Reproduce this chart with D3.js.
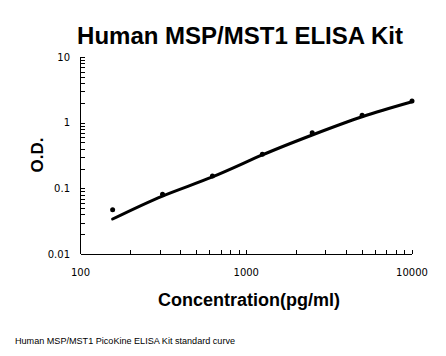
<!DOCTYPE html>
<html><head><meta charset="utf-8">
<script src="https://cdn.jsdelivr.net/npm/d3@7"></script>
<style>body{margin:0;background:#fff}svg{display:block}</style>
</head><body>
<script>
const concentrations = [156.25, 312.5, 625, 1250, 2500, 5000, 10000];
const odValues = [0.047, 0.081, 0.154, 0.33, 0.70, 1.30, 2.13];
const curveOD = [0.0341, 0.0763, 0.149, 0.322, 0.649, 1.23, 2.08];
const xTickLabels = ["100", "1000", "10000"];
const yTickLabels = ["0.01", "0.1", "1", "10"];

const W = 446, H = 356;
const svg = d3.select("body").append("svg").attr("width", W).attr("height", H);

const x = d3.scaleLog().domain([100, 10000]).range([80.5, 412]);
const y = d3.scaleLog().domain([0.01, 10]).range([254, 57]);

// axes lines
const ax = svg.append("g").attr("stroke", "#000").attr("stroke-width", 1).attr("shape-rendering", "crispEdges");
ax.append("line").attr("x1", x(100)).attr("x2", x(10000)).attr("y1", y(0.01)).attr("y2", y(0.01));
ax.append("line").attr("x1", x(100)).attr("x2", x(100)).attr("y1", y(0.01)).attr("y2", y(10));

// x ticks (inside, upward)
const xTicks = [];
for (let d = 100; d < 10000; d *= 10) for (let k = 2; k <= 10; k++) xTicks.push(d * k);
ax.selectAll(".xt").data(xTicks).join("line")
  .attr("x1", d => Math.round(x(d)) + 0.5).attr("x2", d => Math.round(x(d)) + 0.5)
  .attr("y1", y(0.01)).attr("y2", y(0.01) - 4);

// y ticks (inside, right)
const yTicks = [];
for (let d = 0.01; d < 9; d *= 10) for (let k = 2; k <= 10; k++) yTicks.push(+(d * k).toPrecision(3));
ax.selectAll(".yt").data(yTicks).join("line")
  .attr("x1", x(100)).attr("x2", x(100) + 4)
  .attr("y1", d => Math.round(y(d)) + 0.5).attr("y2", d => Math.round(y(d)) + 0.5);

// tick labels
svg.selectAll(".xl").data(xTickLabels).join("text")
  .attr("x", d => x(+d)).attr("y", 276)
  .attr("text-anchor", "middle").attr("font-family", "DejaVu Sans").attr("font-size", 10)
  .text(d => d);
svg.selectAll(".yl").data(yTickLabels).join("text")
  .attr("x", 70).attr("y", d => y(+d) + 3.5)
  .attr("text-anchor", "end").attr("font-family", "DejaVu Sans").attr("font-size", 10)
  .text(d => d);

// curve
const line = d3.line().x((d, i) => x(concentrations[i])).y(d => y(d)).curve(d3.curveNatural);
svg.append("path").datum(curveOD).attr("d", line)
  .attr("fill", "none").attr("stroke", "#000").attr("stroke-width", 3).attr("stroke-linecap", "round");

// points
svg.selectAll(".pt").data(odValues).join("circle")
  .attr("cx", (d, i) => x(concentrations[i])).attr("cy", d => y(d)).attr("r", 2.5).attr("fill", "#000");

// titles
svg.append("text").attr("x", 240).attr("y", 44).attr("text-anchor", "middle")
  .attr("font-family", "Liberation Sans, Arial").attr("font-weight", "bold").attr("font-size", 24)
  .text("Human MSP/MST1 ELISA Kit");
svg.append("text").attr("x", 249).attr("y", 306).attr("text-anchor", "middle")
  .attr("font-family", "Liberation Sans, Arial").attr("font-weight", "bold").attr("font-size", 18)
  .text("Concentration(pg/ml)");
svg.append("text").attr("transform", "translate(43,155) rotate(-90)").attr("text-anchor", "middle")
  .attr("font-family", "Liberation Sans, Arial").attr("font-weight", "bold").attr("font-size", 17)
  .text("O.D.");
svg.append("text").attr("x", 15).attr("y", 344)
  .attr("font-family", "Liberation Sans, Arial").attr("font-size", 8.5)
  .attr("textLength", 220).attr("lengthAdjust", "spacingAndGlyphs")
  .text("Human MSP/MST1 PicoKine ELISA Kit standard curve");
</script>
</body></html>
